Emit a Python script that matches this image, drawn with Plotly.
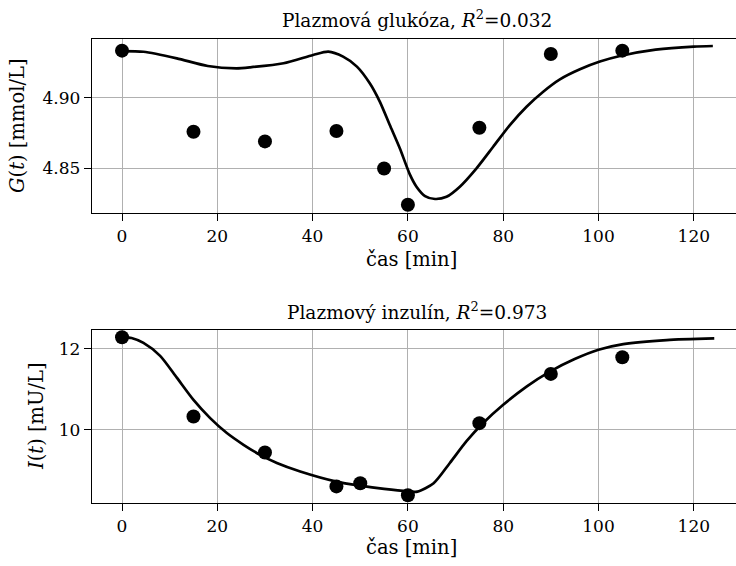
import plotly.graph_objects as go
from plotly.subplots import make_subplots

# ---- data ----
t_obs = [0, 15, 30, 45, 55, 60, 75, 90, 105]
g_obs = [4.9338, 4.8759, 4.8690, 4.8764, 4.8497, 4.8238, 4.8788, 4.9314, 4.9338]

t_ins = [0, 15, 30, 45, 50, 60, 75, 90, 105]
i_obs = [12.29, 10.33, 9.44, 8.60, 8.68, 8.38, 10.165, 11.383, 11.795]

t_gfit = [0, 4.5, 11.5, 18, 24, 26.9, 33.9, 40.1, 43.3, 46.4, 49.3, 52.0, 54.1, 56.2,
          58.3, 60.4, 61.8, 63.6, 65.7, 68.1, 70.9, 74.4, 77.9, 81.4, 84.9, 88.4,
          91.9, 96.1, 100.3, 104.5, 112, 120, 124]
g_fit = [4.9335, 4.9330, 4.9283, 4.9228, 4.9212, 4.9219, 4.9248, 4.9307, 4.9331,
         4.9295, 4.9224, 4.9105, 4.8974, 4.8807, 4.8641, 4.8455, 4.8367, 4.8300,
         4.8279, 4.8295, 4.8367, 4.8498, 4.8652, 4.8807, 4.8938, 4.9045, 4.9133,
         4.9205, 4.9260, 4.9300, 4.9345, 4.9367, 4.9371]

t_ifit = [0, 2, 4.5, 8, 11.5, 15, 18.5, 22, 25.5, 29, 32.5, 37.4, 45, 50, 55, 60, 62,
          65.4, 68.8, 72.3, 75.8, 80, 84.9, 89.8, 95, 100, 105.2, 114.3, 124.3]
i_fit = [12.30, 12.27, 12.15, 11.83, 11.29, 10.74, 10.29, 9.92, 9.63, 9.38, 9.18, 8.97,
         8.72, 8.62, 8.54, 8.48, 8.47, 8.68, 9.18, 9.72, 10.17, 10.62, 11.07, 11.44,
         11.75, 11.98, 12.12, 12.22, 12.26]

x_ticks = [0, 20, 40, 60, 80, 100, 120]
g_ticks = [4.85, 4.90]
g_tick_text = ["4.85", "4.90"]
i_ticks = [10, 12]
i_tick_text = ["10", "12"]

title_g = "Plazmová glukóza, <i>R</i><sup>2</sup>=0.032"
title_i = "Plazmový inzulín, <i>R</i><sup>2</sup>=0.973"
ylab_g = "<i>G</i>(<i>t</i>) [mmol/L]"
ylab_i = "<i>I</i>(<i>t</i>) [mU/L]"
xlab = "čas [min]"

FONT = "DejaVu Serif"
FS = 17
FS_TITLE = 18.5
FS_LABEL = 19.5

# layout geometry (pixels)
W, H = 736, 566
L, R, T, B = 92, 0, 39, 63
ph = H - T - B
def py(p):  # pixel y -> paper
    return (H - B - p) / ph
pw = W - L - R
def px(p):
    return (p - L) / pw

fig = make_subplots(rows=2, cols=1, vertical_spacing=0.0)

line_style = dict(color="black", width=2.7, shape="spline", smoothing=0.7)
fig.add_trace(go.Scatter(x=t_gfit, y=g_fit, mode="lines", line=line_style,
                         showlegend=False), row=1, col=1)
fig.add_trace(go.Scatter(x=t_obs, y=g_obs, mode="markers", marker=dict(color="black", size=14),
                         showlegend=False), row=1, col=1)
fig.add_trace(go.Scatter(x=t_ifit, y=i_fit, mode="lines", line=line_style,
                         showlegend=False), row=2, col=1)
fig.add_trace(go.Scatter(x=t_ins, y=i_obs, mode="markers", marker=dict(color="black", size=14),
                         showlegend=False), row=2, col=1)

xcommon = dict(range=[-6.3, 128.86], tickvals=x_ticks, showgrid=True, gridcolor="#b0b0b0", gridwidth=1.1,
               showline=True, linecolor="black", linewidth=1.4, mirror=True, ticks="outside",
               ticklen=7, tickwidth=1.3, tickcolor="black", zeroline=False,
               tickfont=dict(family=FONT, size=FS, color="black"))
ycommon = dict(showgrid=True, gridcolor="#b0b0b0", gridwidth=1.1,
               showline=True, linecolor="black", linewidth=1.4, mirror=False, ticks="outside",
               ticklen=7, tickwidth=1.3, tickcolor="black", zeroline=False,
               tickfont=dict(family=FONT, size=FS, color="black"))

fig.update_xaxes(**xcommon)
fig.update_yaxes(**ycommon)
fig.update_layout(
    xaxis=dict(domain=[0, 1], anchor="y"),
    xaxis2=dict(domain=[0, 1], anchor="y2"),
    yaxis=dict(domain=[py(213), 1], range=[4.8179, 4.9421], tickvals=g_ticks, ticktext=g_tick_text),
    yaxis2=dict(domain=[0, py(330)], range=[8.19, 12.469], tickvals=i_ticks, ticktext=i_tick_text),
)

ann = []
def text_ann(x, y, s, size, angle=0):
    ann.append(dict(x=x, y=y, xref="paper", yref="paper", text=s, showarrow=False,
                    xanchor="center", yanchor="middle", textangle=angle,
                    font=dict(family=FONT, size=size, color="black")))

cx = px((L + 742) / 2)
text_ann(cx, py(19), title_g, FS_TITLE)
text_ann(cx, py(311), title_i, FS_TITLE)
text_ann(px(411), py(259), xlab, FS_LABEL)
text_ann(px(411), py(547), xlab, FS_LABEL)
text_ann(px(17), py(126), ylab_g, FS_LABEL, -90)
text_ann(px(36), py(416), ylab_i, FS_LABEL, -90)

fig.update_layout(
    width=W, height=H,
    margin=dict(l=L, r=R, t=T, b=B, autoexpand=False),
    paper_bgcolor="white", plot_bgcolor="white",
    annotations=ann,
    font=dict(family=FONT, size=FS, color="black"),
)

fig.write_html("out.html")
